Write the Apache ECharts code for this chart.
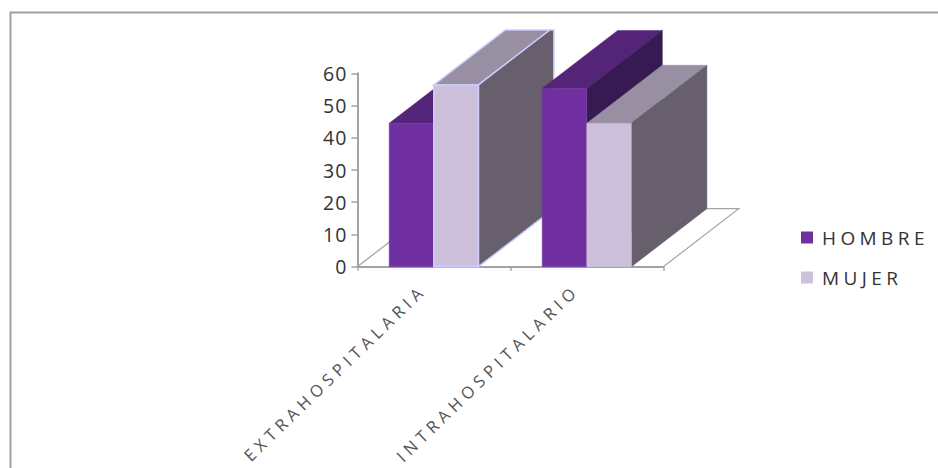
<!DOCTYPE html>
<html>
<head>
<meta charset="utf-8">
<style>
html,body{margin:0;padding:0;background:#fff;overflow:hidden}
#c{width:938px;height:468px}
#c text[style*="16.5px"]{letter-spacing:5px}
#c text[style*="19.5px"]{letter-spacing:1px}
#c text[style*="19px"]{letter-spacing:4.4px}
</style>
<script src="https://cdn.jsdelivr.net/npm/echarts@6/dist/echarts.min.js"></script>
</head>
<body>
<div id="c"></div>
<script>
const categories = ['EXTRAHOSPITALARIA', 'INTRAHOSPITALARIO'];
const hombre = [44.5, 55.3];
const mujer = [56.4, 44.5];
const yTicks = { min: 0, max: 60, interval: 10 };

const DEPTH_X = 75.5, DEPTH_Y = -58, CLIP_Y = 30, BAR_W = 44.6;
const GREY = '#a3a3a3';
const palette = {
  HOMBRE: { front: '#7030a0', top: '#542478', side: '#371a52' },
  MUJER:  { front: '#ccc0da', top: '#998fa3', side: '#67606c' }
};

function clipTop(pts) {
  const out = [];
  for (let i = 0; i < pts.length; i++) {
    const a = pts[i], b = pts[(i + 1) % pts.length];
    const ai = a[1] >= CLIP_Y, bi = b[1] >= CLIP_Y;
    if (ai) out.push(a);
    if (ai !== bi) {
      const t = (CLIP_Y - a[1]) / (b[1] - a[1]);
      out.push([a[0] + (b[0] - a[0]) * t, CLIP_Y]);
    }
  }
  return out;
}

function barRenderer(slot, colors) {
  return function (params, api) {
    const cat = api.value(0), val = api.value(1);
    const topC = api.coord([cat, val]);
    const baseC = api.coord([cat, 0]);
    const x0 = topC[0] + (slot - 1) * BAR_W, x1 = x0 + BAR_W;
    const yT = topC[1], yB = baseC[1];
    const off = function (p) { return [p[0] + DEPTH_X, p[1] + DEPTH_Y]; };
    const z2 = cat * 10 + slot;
    const outlined = slot === 1 && cat === 0;
    const face = function (pts, fill) {
      return {
        type: 'polygon', z2: z2, silent: true,
        shape: { points: clipTop(pts) },
        style: { fill: fill, stroke: outlined ? '#ccccff' : fill, lineWidth: outlined ? 1.5 : 0.5 }
      };
    };
    return {
      type: 'group',
      children: [
        face([[x0, yT], [x1, yT], off([x1, yT]), off([x0, yT])], colors.top),
        face([[x1, yT], [x1, yB], off([x1, yB]), off([x1, yT])], colors.side),
        face([[x0, yT], [x1, yT], [x1, yB], [x0, yB]], colors.front)
      ]
    };
  };
}

function floorRenderer(params, api) {
  const left = api.coord([0, 0]), right = api.coord([categories.length - 1, 0]);
  const half = api.size([1, 0])[0] / 2;
  const a = [left[0] - half, left[1]], b = [right[0] + half, right[1]];
  return {
    type: 'polyline', z2: -1, silent: true,
    shape: { points: [a, [a[0] + DEPTH_X, a[1] + DEPTH_Y], [b[0] + DEPTH_X, b[1] + DEPTH_Y], b] },
    style: { fill: null, stroke: GREY, lineWidth: 1.2 }
  };
}

const chart = echarts.init(document.getElementById('c'), null, { renderer: 'svg' });
chart.setOption({
  animation: false,
  backgroundColor: '#fff',
  graphic: [{
    type: 'rect', left: 8, top: 10, silent: true,
    shape: { width: 1000, height: 1000 },
    style: { fill: null, stroke: '#a0a0a0', lineWidth: 2 }
  }],
  grid: { left: 357.3, top: 73.3, width: 306, height: 193.4 },
  legend: {
    orient: 'vertical', left: 796, top: 223, icon: 'rect',
    itemWidth: 12, itemHeight: 12, itemGap: 21, align: 'left',
    selectedMode: false,
    data: ['HOMBRE', 'MUJER'],
    textStyle: { fontFamily: 'Open Sans', fontSize: 19, color: '#333', padding: [0, 0, 0, 4] }
  },
  xAxis: {
    type: 'category', data: categories,
    axisLine: { lineStyle: { color: GREY, width: 2 } },
    axisTick: { show: true, alignWithLabel: false, length: 4, lineStyle: { color: GREY, width: 1.5 } },
    axisLabel: { rotate: 44, margin: 10, padding: [0, 15, 0, 0], interval: 0, fontFamily: 'Open Sans', fontSize: 16.5, color: '#555' }
  },
  yAxis: {
    type: 'value', min: yTicks.min, max: yTicks.max, interval: yTicks.interval,
    splitLine: { show: false },
    axisLine: { show: true, lineStyle: { color: GREY, width: 2 } },
    axisTick: { show: true, length: 6, lineStyle: { color: GREY, width: 1.5 } },
    axisLabel: { margin: 10, fontFamily: 'Open Sans', fontSize: 19.5, color: '#333' }
  },
  series: [
    { type: 'custom', name: 'floor', renderItem: floorRenderer, data: [[0, 0]], z: 1, silent: true,
      encode: { x: 0, y: 1 } },
    { type: 'custom', name: 'HOMBRE', renderItem: barRenderer(0, palette.HOMBRE), z: 2,
      itemStyle: { color: palette.HOMBRE.front }, encode: { x: 0, y: 1 },
      data: hombre.map(function (v, i) { return [i, v]; }) },
    { type: 'custom', name: 'MUJER', renderItem: barRenderer(1, palette.MUJER), z: 2,
      itemStyle: { color: palette.MUJER.front }, encode: { x: 0, y: 1 },
      data: mujer.map(function (v, i) { return [i, v]; }) }
  ]
});
</script>
</body>
</html>
